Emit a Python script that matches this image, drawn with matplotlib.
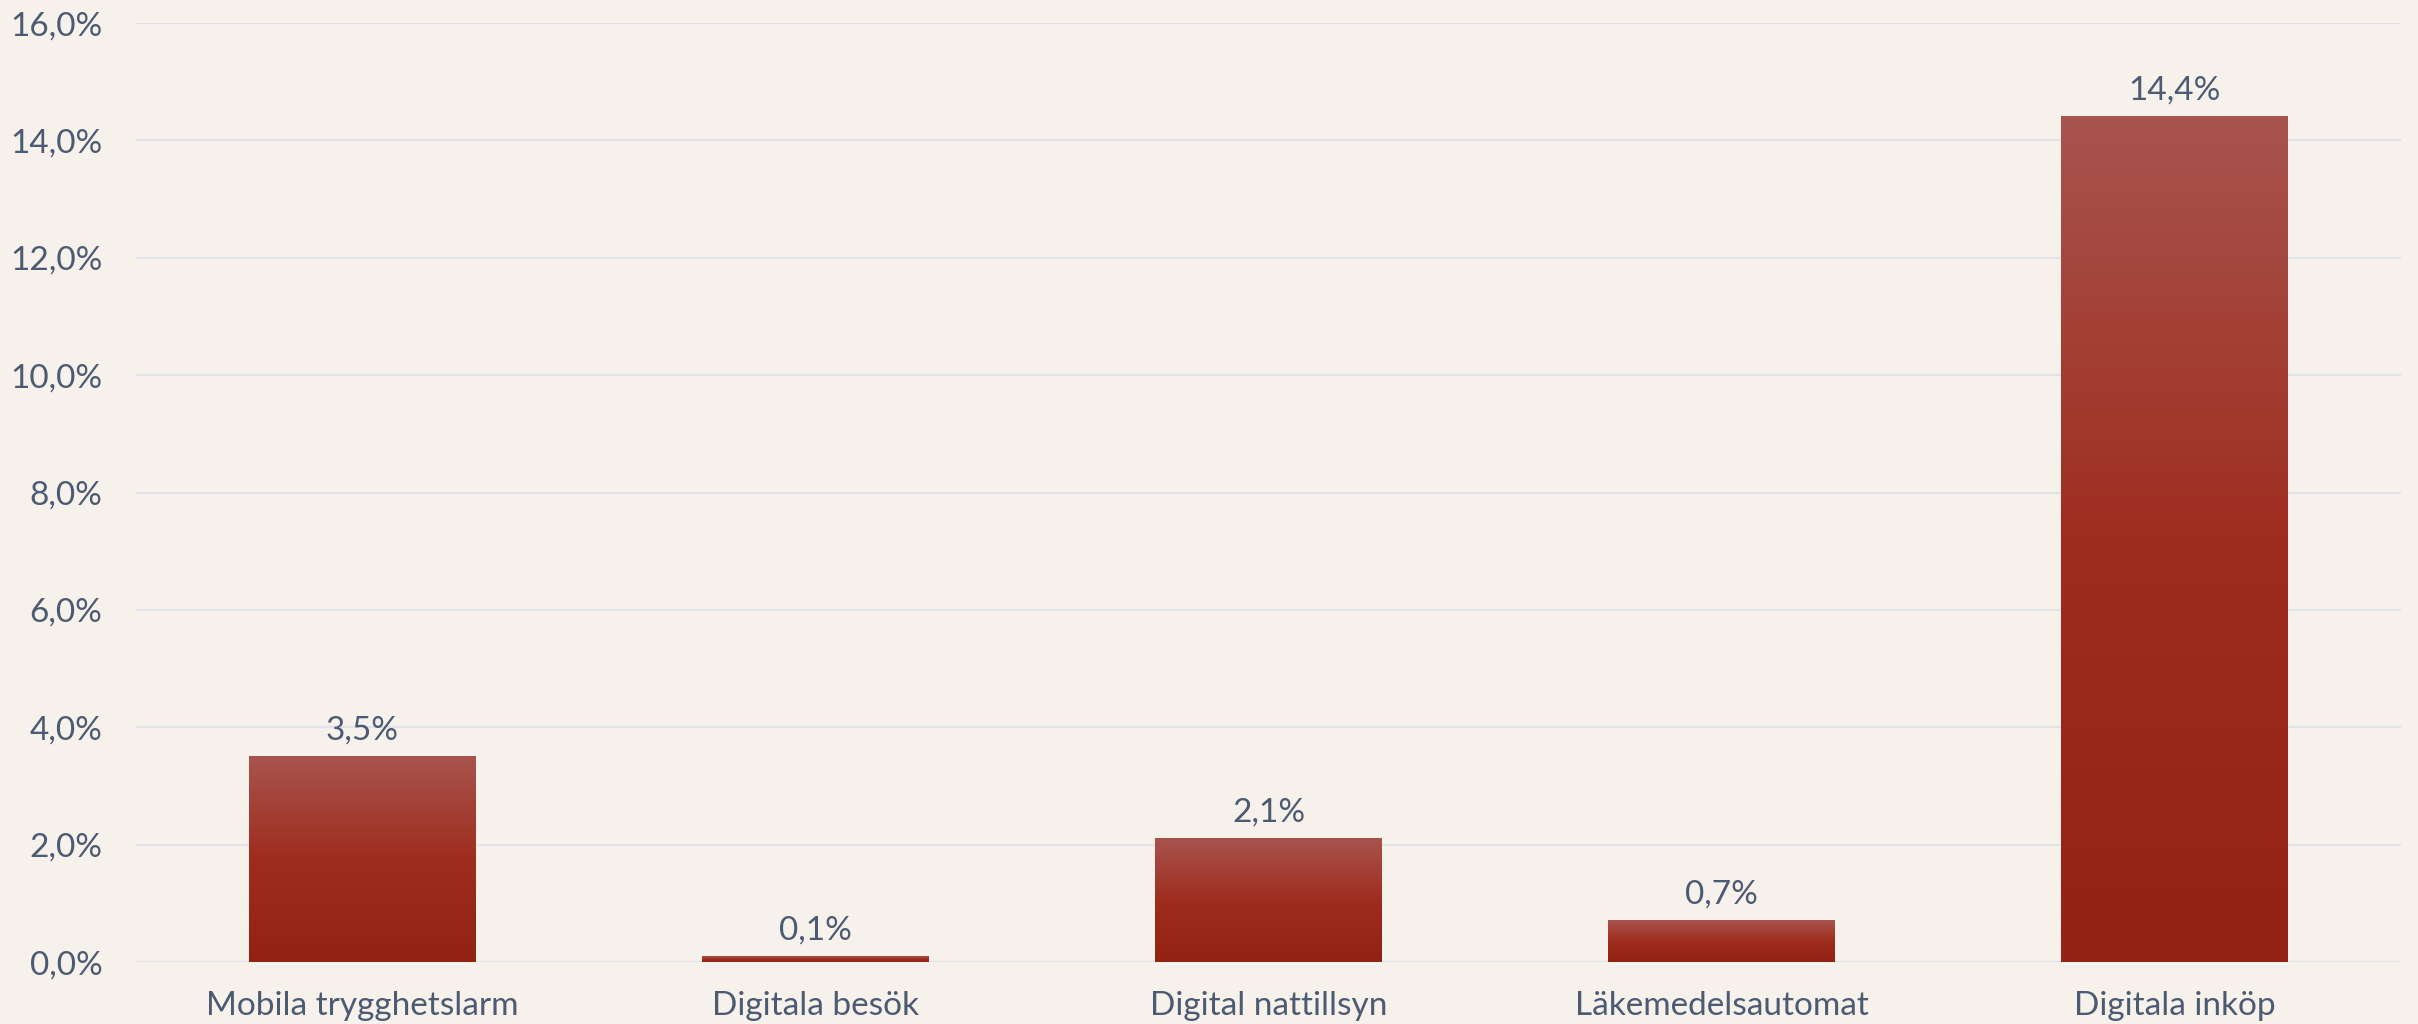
import numpy as np
import matplotlib.pyplot as plt
from matplotlib.colors import LinearSegmentedColormap
from matplotlib.ticker import FuncFormatter

categories = ["Mobila trygghetslarm", "Digitala besök", "Digital nattillsyn",
              "Läkemedelsautomat", "Digitala inköp"]
values = [3.5, 0.1, 2.1, 0.7, 14.4]
yticks = [0, 2, 4, 6, 8, 10, 12, 14, 16]

bg = "#F6F1EB"
txt = "#4C5B72"
grad = LinearSegmentedColormap.from_list(
    "bar", [(0.0, "#922214"), (0.5, "#9F2D1F"), (1.0, "#A8544E")])

plt.rcParams["font.family"] = ["Lato", "DejaVu Sans"]

fig = plt.figure(figsize=(24.18, 10.24), dpi=100, facecolor=bg)
ax = fig.add_axes([0.0562, 0.0605, 0.9368, 0.917], facecolor=bg)

x = np.arange(len(categories))
width = 0.5
bars = ax.bar(x, values, width=width, color="none", zorder=2)

# vertical gradient per bar
g = np.linspace(0, 1, 256).reshape(-1, 1)
for b in bars:
    x0, y0 = b.get_x(), b.get_y()
    w, h = b.get_width(), b.get_height()
    ax.imshow(g, cmap=grad, origin="lower", aspect="auto",
              extent=[x0, x0 + w, y0, y0 + h], zorder=2)

for xi, v in zip(x, values):
    ax.annotate(f"{v:.1f}%".replace(".", ","), (xi, v), xytext=(0, 8),
                textcoords="offset points", ha="center", va="bottom",
                fontsize=24, color=txt)

ax.set_xlim(-0.5, len(categories) - 0.5)
ax.set_ylim(0, 16)
ax.set_yticks(yticks)
ax.yaxis.set_major_formatter(FuncFormatter(lambda v, p: f"{v:.1f}%".replace(".", ",")))
ax.set_xticks(x)
ax.set_xticklabels(categories)
ax.tick_params(axis="both", length=0, labelsize=24, labelcolor=txt)
ax.tick_params(axis="y", pad=24)
ax.tick_params(axis="x", pad=21)
ax.grid(axis="y", color="#E2E2E8", linewidth=1.6, zorder=0)
ax.set_axisbelow(True)
for s in ax.spines.values():
    s.set_visible(False)

fig.savefig("out.png", dpi=100, facecolor=bg)
